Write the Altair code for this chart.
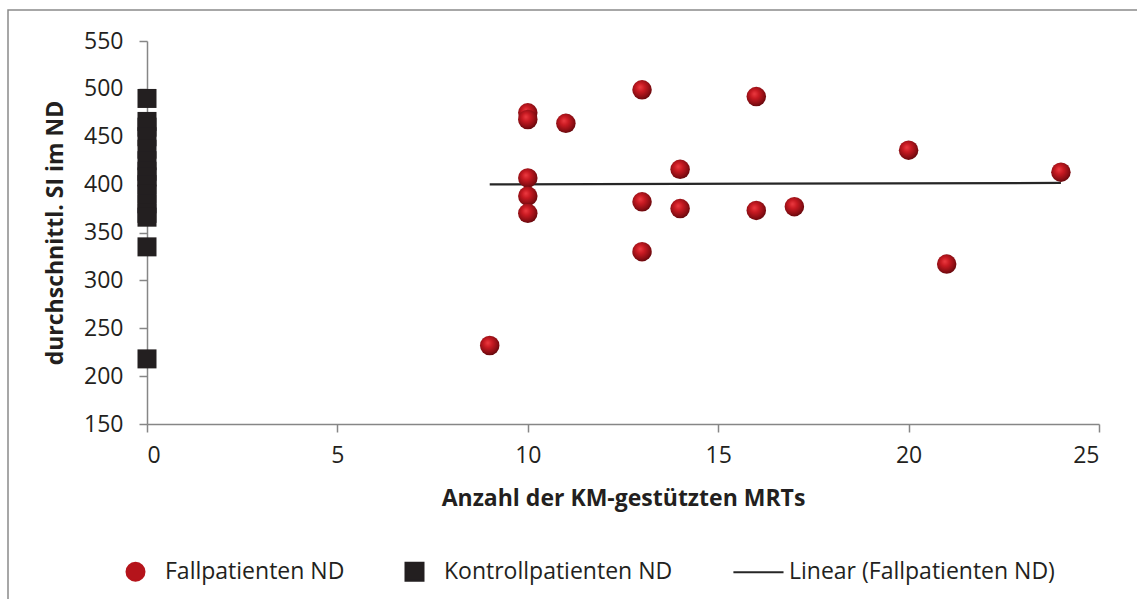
import altair as alt
import pandas as pd

# Fallpatienten: number of contrast-enhanced MRIs vs. mean signal intensity
case_x = [9, 10, 10, 10, 10, 10, 11, 13, 13, 13, 14, 14, 16, 16, 17, 20, 21, 24]
case_y = [232, 475, 468, 407, 388, 370, 464, 499, 382, 330, 416, 375, 492, 373, 377, 436, 317, 413]

# Kontrollpatienten: no contrast-enhanced MRI
control_x = [0, 0, 0, 0, 0, 0, 0, 0, 0, 0, 0, 0, 0, 0, 0]
control_y = [490, 466, 460, 450, 437, 425, 414, 408, 400, 390, 380, 370, 366, 335, 218]

series_names = ["Fallpatienten ND", "Kontrollpatienten ND", "Linear (Fallpatienten ND)"]
series_colors = ["#b5141b", "#231f20", "#262626"]
series_shapes = ["circle", "square", "M-2.9,0H2.67"]

x_ticks = [0, 5, 10, 15, 20, 25]
y_ticks = [150, 200, 250, 300, 350, 400, 450, 500, 550]

FONT = "Open Sans"
TEXT = "#231f20"
GRAY = "#868686"

case_df = pd.DataFrame({"x": case_x, "y": case_y, "series": series_names[0]})
control_df = pd.DataFrame({"x": control_x, "y": control_y, "series": series_names[1]})

x_enc = alt.X(
    "x:Q",
    scale=alt.Scale(domain=[0, 25], nice=False, zero=False),
    axis=alt.Axis(
        values=x_ticks, title="Anzahl der KM-gestützten MRTs", grid=False,
        labelFontSize=23, labelPadding=12, titleFontSize=23, titleFontWeight="bold",
        titlePadding=20, tickSize=8,
    ),
)
y_enc = alt.Y(
    "y:Q",
    scale=alt.Scale(domain=[150, 550], nice=False, zero=False),
    axis=alt.Axis(
        values=y_ticks, title="durchschnittl. SI im ND", grid=False,
        labelFontSize=23, labelPadding=16, titleFontSize=23, titleFontWeight="bold",
        titlePadding=16, tickSize=8,
    ),
)

legend = alt.Legend(
    orient="none", legendX=-23, legendY=519, direction="horizontal", title=None,
    labelFont=FONT, labelFontSize=23, labelColor=TEXT, labelOffset=18,
    labelLimit=400, columnPadding=56, padding=0, symbolSize=324,
    symbolStrokeWidth=2, symbolStrokeColor="#262626", symbolOpacity=1,
)

color_enc = alt.Color(
    "series:N",
    scale=alt.Scale(domain=series_names, range=series_colors),
    legend=legend,
)
shape_enc = alt.Shape(
    "series:N",
    scale=alt.Scale(domain=series_names, range=series_shapes),
    legend=legend,
)

# shaded red ball for the case points
sphere = alt.RadialGradient(
    gradient="radial",
    stops=[
        alt.GradientStop(color="#ec3b41", offset=0),
        alt.GradientStop(color="#c81a22", offset=0.35),
        alt.GradientStop(color="#8c0e14", offset=0.75),
        alt.GradientStop(color="#5c070b", offset=1),
    ],
    x1=0.4, y1=0.36, r1=0, x2=0.45, y2=0.42, r2=0.62,
)

cases = alt.Chart(case_df).mark_point(
    filled=True, size=380, opacity=1, fill=sphere, strokeWidth=0
).encode(x=x_enc, y=y_enc, shape=shape_enc)

controls = alt.Chart(control_df).mark_point(
    filled=True, size=361, opacity=1, strokeWidth=0
).encode(x=x_enc, y=y_enc, color=color_enc, shape=shape_enc)

trend = alt.Chart(case_df).transform_regression(
    "x", "y"
).transform_calculate(
    series="'" + series_names[2] + "'"
).mark_line(strokeWidth=2.2).encode(x=x_enc, y=y_enc, color=color_enc)

# outer chart frame (only the left and top edges fall inside the canvas)
frame = alt.Chart(alt.Data(values=[{}])).mark_rect(
    fill=None, stroke="#8a8a8a", strokeWidth=1.5
).encode(
    x=alt.value(-139), x2=alt.value(1000), y=alt.value(-31), y2=alt.value(580)
)

chart = alt.layer(frame, trend, controls, cases).properties(
    width=952, height=383,
    autosize="none",
    padding={"left": 147, "top": 41, "right": 38, "bottom": 175},
    background="white",
).configure_view(
    stroke=None
).configure_axis(
    labelFont=FONT, titleFont=FONT, labelColor=TEXT, titleColor=TEXT,
    domainColor=GRAY, tickColor=GRAY, domainWidth=1.5, tickWidth=1.5,
).configure_legend(
    labelFont=FONT
)

chart.save("out.html", embed_options={"renderer": "svg", "actions": False})
